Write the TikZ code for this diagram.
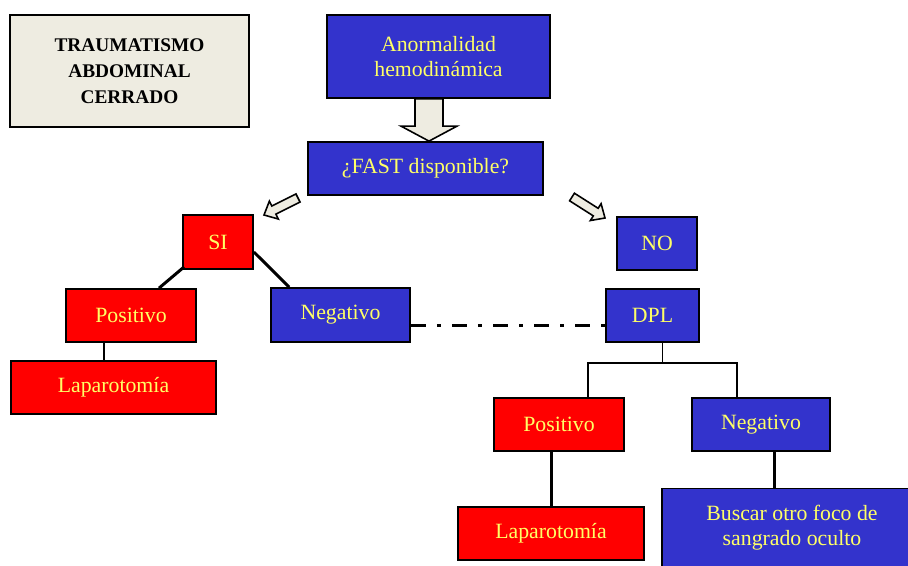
\documentclass[tikz,border=0pt]{standalone}
\usepackage{fontspec}
\setmainfont{Liberation Serif}
\usetikzlibrary{positioning,calc}

\definecolor{boxblue}{RGB}{51,51,204}
\definecolor{boxred}{RGB}{255,0,0}
\definecolor{boxtext}{RGB}{255,255,102}
\definecolor{paper}{RGB}{238,236,225}

\tikzset{
  box/.style={draw=black, line width=1pt, text=boxtext, align=center,
    font=\fontsize{12.4}{14.5}\selectfont, inner sep=0pt},
  bluebox/.style={box, fill=boxblue},
  redbox/.style={box, fill=boxred},
  link/.style={line width=1.7pt},
  thinlink/.style={line width=0.9pt},
  dashdot/.style={line width=1.7pt, dash pattern=on 8.5pt off 6.3pt on 2.3pt off 6.3pt},
  barrow/.style={draw=black, fill=paper, line width=0.9pt, line join=miter}
}

% block arrow: tail, tip, shaft half width, head half width, head length
\newcommand{\blockarrow}[5]{%
  \coordinate (#1h) at ($(#2)!#5!(#1)$);
  \draw[barrow] ($(#1)!#3!90:(#2)$) -- ($(#1h)!#3!90:(#2)$) -- ($(#1h)!#4!90:(#2)$)
    -- (#2) -- ($(#1h)!#4!-90:(#2)$) -- ($(#1h)!#3!-90:(#2)$) -- ($(#1)!#3!-90:(#2)$) -- cycle;
}

\begin{document}
\begin{tikzpicture}[x=0.02cm, y=-0.02cm]
  \clip (0,0) rectangle (908,565);
  \fill[white] (0,0) rectangle (908,565);

  \node[draw=black, line width=1.2pt, fill=paper, align=center, inner sep=0pt,
    font=\bfseries\fontsize{11}{14.8}\selectfont,
    minimum width=4.78cm, minimum height=2.24cm] (title) at (129.5,71) {TRAUMATISMO\\ABDOMINAL\\CERRADO};

  \node[bluebox, minimum width=4.46cm, minimum height=1.66cm] (anom) at (438.5,56.5) {Anormalidad\\hemodinámica};
  \node[bluebox, minimum width=4.7cm, minimum height=1.06cm] (fast) at (425.5,168.5) {¿FAST disponible?};
  \node[redbox, minimum width=1.4cm, minimum height=1.08cm] (si) at (218,242) {SI};
  \node[bluebox, minimum width=1.6cm, minimum height=1.06cm] (no) at (657,243.5) {NO};
  \node[redbox, minimum width=2.6cm, minimum height=1.06cm] (posA) at (131,315.5) {Positivo};
  \node[bluebox, minimum width=2.78cm, minimum height=1.08cm] (negA) at (340.5,315) {Negativo};
  \node[bluebox, minimum width=1.86cm, minimum height=1.06cm] (dpl) at (652.5,315.5) {DPL};
  \node[redbox, minimum width=4.1cm, minimum height=1.06cm] (lapA) at (113.5,387.5) {Laparotomía};
  \node[redbox, minimum width=2.6cm, minimum height=1.06cm] (posB) at (559,424.5) {Positivo};
  \node[bluebox, minimum width=2.76cm, minimum height=1.06cm] (negB) at (761,424.5) {Negativo};
  \node[redbox, minimum width=3.72cm, minimum height=1.06cm] (lapB) at (551,533.5) {Laparotomía};
  \node[bluebox, minimum width=5.2cm, minimum height=1.56cm] (busca) at (792,527.5) {Buscar otro foco de\\sangrado oculto};

  % block arrows
  \coordinate (bigT) at (429,0 |- anom.south);
  \coordinate (bigP) at (429,0 |- fast.north);
  \blockarrow{bigT}{bigP}{0.28cm}{0.56cm}{0.3cm}
  \coordinate (leftT) at (298,198);
  \coordinate (leftP) at (264,215);
  \blockarrow{leftT}{leftP}{0.09cm}{0.2cm}{0.22cm}
  \coordinate (rightT) at (572,197);
  \coordinate (rightP) at (605,218);
  \blockarrow{rightT}{rightP}{0.09cm}{0.2cm}{0.22cm}

  % left branch
  \draw[link] ($(si.south west)+(2,-3)$) -- ($(posA.north)+(28,0)$);
  \draw[link] ($(si.east)+(0,10)$) -- ($(negA.north west)+(19,0)$);
  \draw[link] ($(posA.south)+(-27,0)$) coordinate (c1) -- (c1 |- lapA.north);
  \draw[dashdot] ($(negA.east)+(0,10)$) coordinate (c2) -- (c2 -| dpl.west);

  % right branch
  \draw[thinlink] ($(dpl.south)+(10,0)$) -- ++(0,20) coordinate (split);
  \draw[thinlink] ($(posB.north)+(29,0)$) |- (split) -| ($(negB.north)+(-24,0)$);
  \draw[link] (lapB.north) -- (lapB.north |- posB.south);
  \draw[link] ($(negB.south)+(13,0)$) coordinate (c3) -- (c3 |- busca.north);
\end{tikzpicture}
\end{document}
